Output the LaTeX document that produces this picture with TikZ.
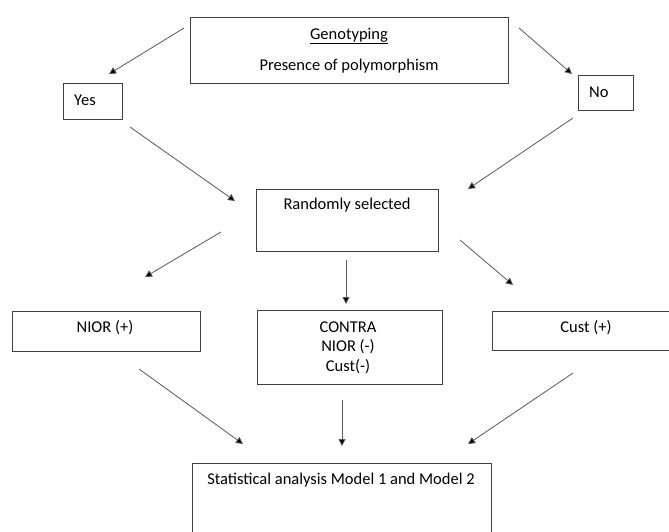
\documentclass[tikz,border=0pt]{standalone}
\usepackage{fontspec}
\setmainfont{Carlito}
\usetikzlibrary{arrows.meta}
\begin{document}
\begin{tikzpicture}[x=1pt,y=-1pt,
  box/.style={draw=black!75, line width=0.9pt, inner sep=0pt, anchor=north west},
  txt/.style={inner sep=0pt, anchor=base, font=\fontsize{16.5}{20.5}\selectfont, text=black},
  arr/.style={draw=black!65, line width=0.8pt, -{Triangle[length=7pt,width=7pt,fill=black]}}]
\useasboundingbox (0,0) rectangle (669,531);
\clip (0,0) rectangle (669,531);
\fill[white] (0,0) rectangle (669,531);
% boxes
\node[box, minimum width=318pt, minimum height=66pt] (geno) at (190,17) {};
\node[box, minimum width=59pt, minimum height=36pt] (yes) at (63,83) {};
\node[box, minimum width=55pt, minimum height=35pt] (no) at (578,75) {};
\node[box, minimum width=182pt, minimum height=62pt] (rand) at (256,189) {};
\node[box, minimum width=188pt, minimum height=40pt] (nior) at (12,311) {};
\node[box, minimum width=185pt, minimum height=74pt] (contra) at (257,310) {};
\node[box, minimum width=190pt, minimum height=39pt] (cust) at (492,311) {};
\node[box, minimum width=299pt, minimum height=90pt] (stat) at (192,463) {};
% texts
\node[txt] (genot) at (349,39) {\underline{Genotyping}};
\node[txt] (poly) at (349,70) {Presence of polymorphism};
\node[txt, anchor=base west] (yest) at (74,105) {Yes};
\node[txt, anchor=base west] (not) at (589,97) {No};
\node[txt] (randt) at (347,209) {Randomly selected};
\node[txt] (niort) at (105,332) {NIOR (+)};
\node[txt] (contrat1) at (348,332) {CONTRA};
\node[txt] (contrat2) at (348,351.5) {NIOR (-)};
\node[txt] (contrat3) at (348,371) {Cust(-)};
\node[txt] (custt) at (586,332) {Cust (+)};
\node[txt] (statt) at (341,484) {Statistical analysis Model 1 and Model 2};
% arrow endpoints
\coordinate (a1s) at (184,28);  \coordinate (a1e) at (109,74);
\coordinate (a2s) at (519,28);  \coordinate (a2e) at (572,74);
\coordinate (a3s) at (130,127); \coordinate (a3e) at (235,201);
\coordinate (a4s) at (573,118); \coordinate (a4e) at (468,189);
\coordinate (a5s) at (221,232); \coordinate (a5e) at (145,277);
\coordinate (a6s) at (346,260); \coordinate (a6e) at (346,304);
\coordinate (a7s) at (460,240); \coordinate (a7e) at (513,285);
\coordinate (a8s) at (139,369); \coordinate (a8e) at (243,444);
\coordinate (a9s) at (342,400); \coordinate (a9e) at (342,446);
\coordinate (a10s) at (573,373); \coordinate (a10e) at (468,444);
\draw[arr] (a1s) -- (a1e);
\draw[arr] (a2s) -- (a2e);
\draw[arr] (a3s) -- (a3e);
\draw[arr] (a4s) -- (a4e);
\draw[arr] (a5s) -- (a5e);
\draw[arr] (a6s) -- (a6e);
\draw[arr] (a7s) -- (a7e);
\draw[arr] (a8s) -- (a8e);
\draw[arr] (a9s) -- (a9e);
\draw[arr] (a10s) -- (a10e);
\end{tikzpicture}
\end{document}
